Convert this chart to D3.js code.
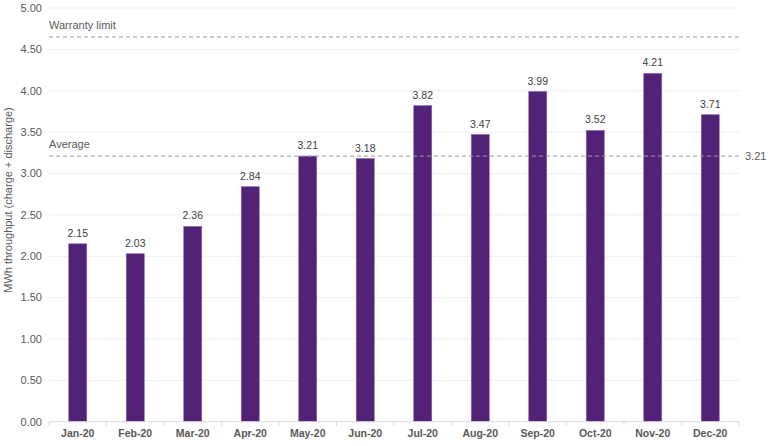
<!DOCTYPE html>
<html><head><meta charset="utf-8">
<script src="https://cdn.jsdelivr.net/npm/d3@7"></script>
<style>body{margin:0;background:#fff;}svg{display:block;font-family:"Liberation Sans",Arial,sans-serif;}</style>
</head><body><svg id="c" width="768" height="446"></svg>
<script>
const categories = ["Jan-20","Feb-20","Mar-20","Apr-20","May-20","Jun-20","Jul-20","Aug-20","Sep-20","Oct-20","Nov-20","Dec-20"];
const values = [2.15,2.03,2.36,2.84,3.21,3.18,3.82,3.47,3.99,3.52,4.21,3.71];
const yTicks = [0,0.5,1,1.5,2,2.5,3,3.5,4,4.5,5];
const warrantyLimit = 4.65;
const averageValue = 3.21;

const svg = d3.select("#c");
const m = {l:49, r:739, t:8, b:421.7};
const x = d3.scaleBand().domain(categories).range([m.l, m.r]).paddingInner(0).paddingOuter(0);
const y = d3.scaleLinear().domain([0,5]).range([m.b, m.t]);

// gridlines
svg.append("g").selectAll("line").data(yTicks.filter(d=>d>0)).join("line")
  .attr("x1", m.l).attr("x2", m.r).attr("y1", d=>y(d)).attr("y2", d=>y(d))
  .attr("stroke", "#efefef").attr("stroke-width", 1);

// y axis labels
svg.append("g").selectAll("text").data(yTicks).join("text")
  .attr("x", 42).attr("y", d=>y(d)).attr("dy","0.35em").attr("text-anchor","end")
  .attr("font-size", 11).attr("fill", "#595959").text(d=>d.toFixed(2));

// y title
svg.append("text").attr("transform", `translate(12,200) rotate(-90)`)
  .attr("text-anchor","middle").attr("font-size", 11).attr("fill","#595959")
  .text("MWh throughput (charge + discharge)");

// bars
const bw = 18;
svg.append("g").selectAll("rect").data(values).join("rect")
  .attr("x", (d,i)=>x(categories[i]) + x.bandwidth()/2 - bw/2)
  .attr("width", bw)
  .attr("y", d=>y(d)).attr("height", d=>y(0)-y(d))
  .attr("fill", "#512275").attr("stroke", "#8a5fae").attr("stroke-width", 0.6);

// value labels
svg.append("g").selectAll("text").data(values).join("text")
  .attr("x", (d,i)=>x(categories[i]) + x.bandwidth()/2)
  .attr("y", d=>y(d) - 7).attr("text-anchor","middle")
  .attr("font-size", 10.5).attr("fill","#404040").text(d=>d.toFixed(2));

// x axis
const xa = svg.append("g");
xa.append("line").attr("x1", m.l).attr("x2", m.r).attr("y1", y(0)).attr("y2", y(0))
  .attr("stroke", "#d9d9d9").attr("stroke-width", 1);
const tickPos = [m.l].concat(categories.map(c=>x(c)+x.bandwidth()));
xa.selectAll("line.t").data(tickPos).join("line").attr("class","t")
  .attr("x1", d=>d).attr("x2", d=>d).attr("y1", y(0)).attr("y2", y(0)+4)
  .attr("stroke", "#d9d9d9");
xa.selectAll("text").data(categories).join("text")
  .attr("x", d=>x(d)+x.bandwidth()/2).attr("y", 437).attr("text-anchor","middle")
  .attr("font-size", 10.5).attr("font-weight","bold").attr("fill","#595959").text(d=>d);

// reference lines
function refLine(v, label, rightLabel){
  svg.append("line").attr("x1", m.l).attr("x2", m.r).attr("y1", y(v)).attr("y2", y(v))
    .attr("stroke", "#9a9a9a").attr("stroke-width", 1).attr("stroke-dasharray", "4,3");
  svg.append("text").attr("x", m.l).attr("y", y(v) - 8).attr("font-size", 11)
    .attr("fill", "#595959").text(label);
  if (rightLabel) svg.append("text").attr("x", 745).attr("y", y(v)).attr("dy","0.35em")
    .attr("font-size", 11).attr("fill", "#595959").text(rightLabel);
}
refLine(warrantyLimit, "Warranty limit", null);
refLine(averageValue, "Average", averageValue.toFixed(2));
</script></body></html>
